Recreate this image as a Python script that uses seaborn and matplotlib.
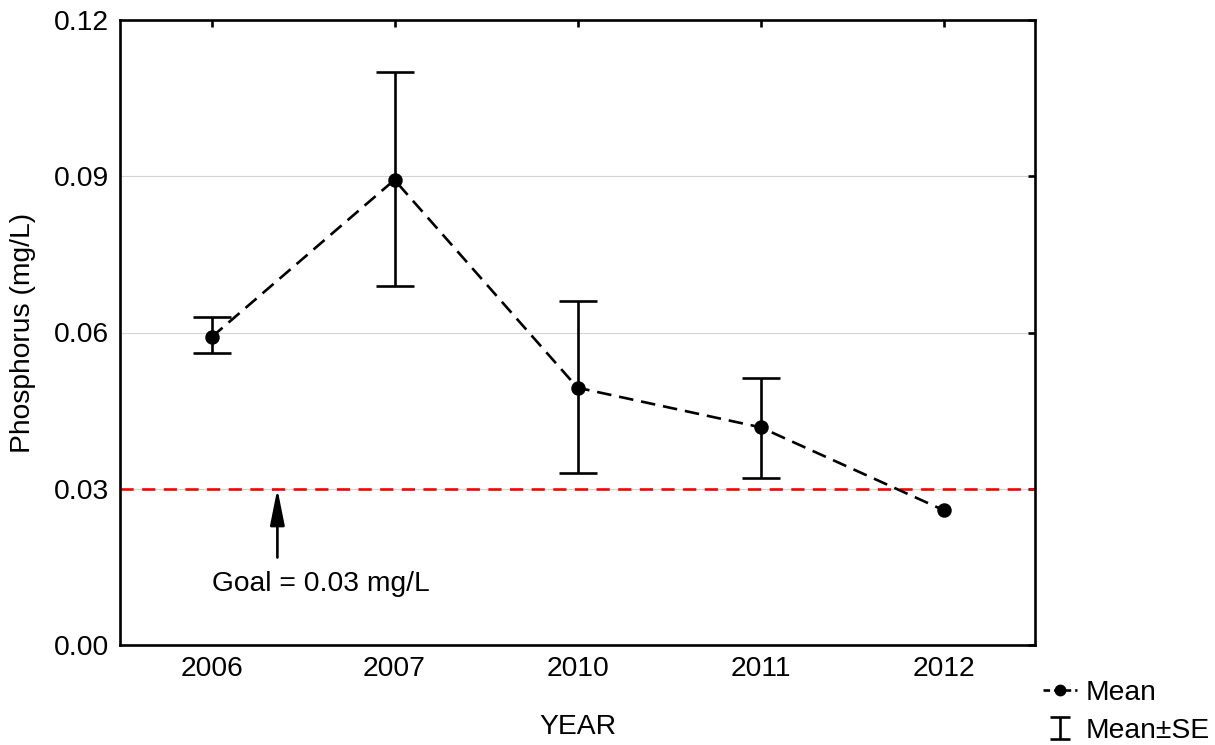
import numpy as np
import pandas as pd
import matplotlib
matplotlib.use("Agg")
import matplotlib.pyplot as plt
from matplotlib.lines import Line2D
from matplotlib.path import Path
import seaborn as sns

# ---- data ----
years = ["2006", "2007", "2010", "2011", "2012"]
means = [0.0591, 0.0893, 0.0494, 0.0418, 0.0259]
se_upper = [0.0629, 0.1100, 0.0661, 0.0512, np.nan]
se_lower = [0.0560, 0.0690, 0.0330, 0.0321, np.nan]
goal_value = 0.03
y_ticks = [0.00, 0.03, 0.06, 0.09, 0.12]
y_tick_labels = ["0.00", "0.03", "0.06", "0.09", "0.12"]

sns.set_theme(style="white")
plt.rcParams["font.family"] = ["Liberation Sans", "DejaVu Sans"]
plt.rcParams["text.color"] = "black"
plt.rcParams["axes.labelcolor"] = "black"
FS = 20.3
LW = 1.9

df = pd.DataFrame({"year": years, "mean": means,
                   "upper": se_upper, "lower": se_lower})

fig = plt.figure(figsize=(12.15, 7.45), dpi=100)
ax = fig.add_axes([120 / 1215, 100 / 745, 915 / 1215, 625 / 745])

# grid lines
for yv in y_ticks[1:-1]:
    ax.axhline(yv, color="#d4d4d4", lw=0.8, zorder=0)

# goal line
goal = ax.axhline(goal_value, color="#ff0000", lw=LW, zorder=1)
goal.set_dashes((5.0, 3.2))

# means (dashed line + markers)
sns.pointplot(data=df, x="year", y="mean", order=years, color="black",
              linestyle="--", marker="o", errorbar=None, markersize=9,
              linewidth=LW, ax=ax, zorder=3)
for ln in ax.lines:
    if ln.get_marker() == "o":
        ln.set_dashes((5.5, 3.0))

# SE error bars
sub = df.dropna()
xpos = [years.index(y) for y in sub["year"]]
ax.errorbar(xpos, sub["mean"],
            yerr=[sub["mean"] - sub["lower"], sub["upper"] - sub["mean"]],
            fmt="none", ecolor="black", elinewidth=LW, capsize=14,
            capthick=LW, zorder=2)

ax.set_xlim(-0.5, 4.5)
ax.set_ylim(0, 0.12)
ax.set_yticks(y_ticks)
ax.set_yticklabels(y_tick_labels)
ax.set_xlabel("YEAR", fontsize=FS, labelpad=23, color="black")
ax.set_ylabel("Phosphorus (mg/L)", fontsize=FS, labelpad=13, color="black")
ax.tick_params(direction="in", top=True, right=True, length=5, width=LW,
               labelsize=FS, pad=8, colors="black")
for sp in ax.spines.values():
    sp.set_visible(True)
    sp.set_color("black")
    sp.set_linewidth(LW)
ax.grid(False)

# goal annotation
ax.annotate("", xy=(0.36, goal_value), xytext=(0.36, 0.0168),
            arrowprops=dict(arrowstyle="-|>,head_length=1.1,head_width=0.22",
                            mutation_scale=20, color="black", lw=LW,
                            shrinkA=0, shrinkB=0), zorder=4)
ax.text(0.0, 0.0117, "Goal = 0.03 mg/L", fontsize=FS, ha="left",
        va="center", color="black")

# legend
i_marker = Path([(-1, -1.1), (1, -1.1), (0, -1.1), (0, 1.1), (-1, 1.1), (1, 1.1)],
                [Path.MOVETO, Path.LINETO, Path.MOVETO, Path.LINETO,
                 Path.MOVETO, Path.LINETO])
h_mean = Line2D([], [], color="black", linestyle="--", dashes=(2.5, 1.5),
                marker="o", markersize=7.5, linewidth=LW)
h_se = Line2D([], [], color="black", linestyle="none", marker=i_marker,
              markersize=16, markeredgewidth=LW, markerfacecolor="none")
leg = fig.legend([h_mean, h_se], ["Mean", "Mean\u00b1SE"], loc="upper left",
                 bbox_to_anchor=(1043 / 1215, 1 - 680 / 745), frameon=False,
                 fontsize=FS, handlelength=1.2, handletextpad=0.3,
                 labelspacing=0.42, borderpad=0, borderaxespad=0)
for t in leg.get_texts():
    t.set_color("black")

fig.savefig("out.png", dpi=100)
